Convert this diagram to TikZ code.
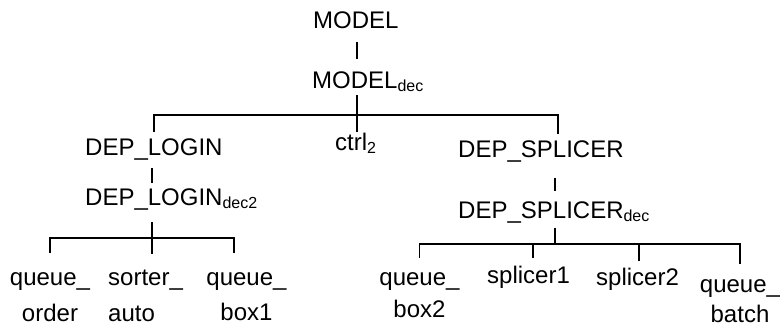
\documentclass[tikz,border=0pt]{standalone}
\usepackage{fontspec}
\setmainfont{Liberation Sans}

\newcommand{\dn}[1]{\raisebox{-3.5pt}{\fontsize{16}{16}\selectfont #1}}

\begin{document}
\begin{tikzpicture}[x=1pt,y=-1pt,
    every node/.style={inner sep=0pt, font=\fontsize{24}{36}\selectfont},
    link/.style={line width=1.6pt}]
    \useasboundingbox (0,0) rectangle (780,327);
    % root
    \node[anchor=base west] (model) at (313,28) {MODEL};
    \node[anchor=base west] (modeldec) at (312,88) {MODEL\dn{dec}};
    \coordinate (j0) at (357,115);
    \draw[link, shorten <=14pt, shorten >=12pt] (j0 |- model.south) -- (j0 |- modeldec.north);
    % second level
    \node[anchor=base west] (dlogin) at (85,155) {DEP\_LOGIN};
    \node[anchor=base west] (ctrl) at (335,150) {ctrl\dn{2}};
    \node[anchor=base west] (dsplicer) at (458,157) {DEP\_SPLICER};
    \coordinate (js) at (558,115);
    \draw[link, shorten <=3pt] (j0 |- modeldec.south) -- (j0 |- ctrl.north);
    \draw[link, shorten <=6pt, shorten >=6pt] (dlogin.north) |- (js) -- (js |- dsplicer.north);
    % left branch
    \node[anchor=base west] (dlogindec) at (85,205) {DEP\_LOGIN\dn{dec2}};
    \coordinate (j1) at (152,238);
    \coordinate (j1r) at (234,238);
    \draw[link, shorten <=8pt, shorten >=5pt] (j1 |- dlogin.south) -- (j1 |- dlogindec.north);
    \node[anchor=base, align=center, font=\fontsize{24}{36}\selectfont] (qorder) at (50,321) {queue\_\\order};
    \node[anchor=base west, align=left, font=\fontsize{24}{36}\selectfont] (sorter) at (108,321) {sorter\_\\auto};
    \node[anchor=base, align=center, font=\fontsize{24}{35}\selectfont] (qboxa) at (246.5,320) {queue\_\\box1};
    \draw[link, shorten <=12pt, shorten >=15pt] (j1 |- dlogindec.south) -- (j1 |- sorter.north);
    \draw[link, shorten <=19pt, shorten >=19pt] (qorder.north) |- (j1r) -- (j1r |- qboxa.north);
    % right branch
    \node[anchor=base west] (dsplicerdec) at (458,218) {DEP\_SPLICER\dn{dec}};
    \coordinate (j2) at (555,244);
    \coordinate (j2a) at (533,244);
    \coordinate (j2b) at (639,244);
    \draw[link, shorten <=16pt, shorten >=10pt] (j2 |- dsplicer.south) -- (j2 |- dsplicerdec.north);
    \draw[link, shorten <=5pt] (j2 |- dsplicerdec.south) -- (j2);
    \node[anchor=base, align=center, font=\fontsize{24}{32}\selectfont] (qboxb) at (419.5,317) {queue\_\\box2};
    \node[anchor=base west] (splone) at (487,283) {splicer1};
    \node[anchor=base west] (spltwo) at (596,285) {splicer2};
    \node[anchor=base, align=center, font=\fontsize{24}{30}\selectfont] (qbatch) at (740,322) {queue\_\\batch};
    \draw[link, shorten <=14pt, shorten >=15pt] (qboxb.north) |- (j2) -| (qbatch.north);
    \draw[link, shorten >=7pt] (j2a) -- (j2a |- splone.north);
    \draw[link, shorten >=6pt] (j2b) -- (j2b |- spltwo.north);
\end{tikzpicture}
\end{document}
